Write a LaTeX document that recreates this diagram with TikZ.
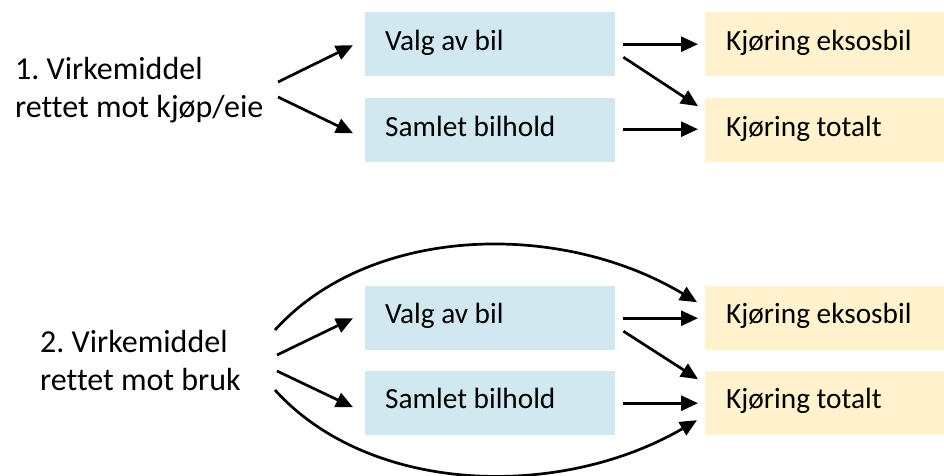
\documentclass[tikz,border=0pt]{standalone}
\usepackage{fontspec}
\setmainfont[Ligatures=NoCommon]{Carlito}
\usetikzlibrary{arrows.meta,calc}
\definecolor{boxblue}{HTML}{D1E8F0}
\definecolor{boxyellow}{HTML}{FFF2CC}
\frenchspacing
\begin{document}
\begin{tikzpicture}[x=1pt,y=-1pt,
  every node/.style={font=\fontsize{29.3}{36}\selectfont, inner sep=0pt},
  bluebox/.style={fill=boxblue, minimum width=250pt, minimum height=64pt, anchor=north west},
  yellowbox/.style={fill=boxyellow, minimum width=239pt, minimum height=64pt, anchor=north west},
  lbl/.style={anchor=base west},
  maintxt/.style={anchor=base west, align=left, font=\fontsize{32}{38}\selectfont},
  arr/.style={line width=2.7pt, -{Triangle[length=17pt,width=15pt]}}]
\useasboundingbox (0,0) rectangle (944,475);
% ---- top section
\node[bluebox] (v1) at (365,12) {};
\node[bluebox] (s1) at (365,98) {};
\node[yellowbox] (e1) at (705,12) {};
\node[yellowbox] (t1) at (705,98) {};
\node[lbl] (v1t) at (385,50) {Valg av bil};
\node[lbl] (s1t) at (385,136) {Samlet bilhold};
\node[lbl] (e1t) at (726,50) {Kjøring eksosbil};
\node[lbl] (t1t) at (726,136) {Kjøring totalt};
\node[maintxt] (m1) at (15,117) {1. Virkemiddel\\rettet mot kjøp/eie};
\coordinate (m1a) at (278,82);
\coordinate (m1b) at (278,97);
\draw[arr] (m1a) -- ($(v1.west)+(-12,1)$);
\draw[arr] (m1b) -- ($(s1.west)+(-12,3)$);
\draw[arr] ($(v1.east)+(8,0)$) -- ($(e1.west)+(-7,0)$);
\draw[arr] ($(v1.east)+(8,13)$) -- ($(t1.west)+(-7,-24)$);
\draw[arr] ($(s1.east)+(8,-1)$) -- ($(t1.west)+(-7,-1)$);
% ---- bottom section
\node[bluebox] (v2) at (365,286) {};
\node[bluebox] (s2) at (365,371) {};
\node[yellowbox] (e2) at (705,286) {};
\node[yellowbox] (t2) at (705,371) {};
\node[lbl] (v2t) at (385,323) {Valg av bil};
\node[lbl] (s2t) at (385,408) {Samlet bilhold};
\node[lbl] (e2t) at (726,323) {Kjøring eksosbil};
\node[lbl] (t2t) at (726,408) {Kjøring totalt};
\node[maintxt] (m2) at (40,390) {2. Virkemiddel\\rettet mot bruk};
\coordinate (m2a) at (275,330);
\coordinate (m2b) at (277,355);
\coordinate (m2c) at (277,371);
\coordinate (m2d) at (275,390);
\draw[arr] (m2a) .. controls (370,225) and (560,220) .. ($(e2.west)+(-8,-16)$);
\draw[arr] (m2b) -- ($(v2.west)+(-12,0)$);
\draw[arr] (m2c) -- ($(s2.west)+(-12,4)$);
\draw[arr] (m2d) .. controls (370,495) and (560,500) .. ($(t2.west)+(-8,17)$);
\draw[arr] ($(v2.east)+(8,0)$) -- ($(e2.west)+(-7,0)$);
\draw[arr] ($(v2.east)+(8,13)$) -- ($(t2.west)+(-7,-24)$);
\draw[arr] ($(s2.east)+(8,0)$) -- ($(t2.west)+(-7,0)$);
\end{tikzpicture}
\end{document}
